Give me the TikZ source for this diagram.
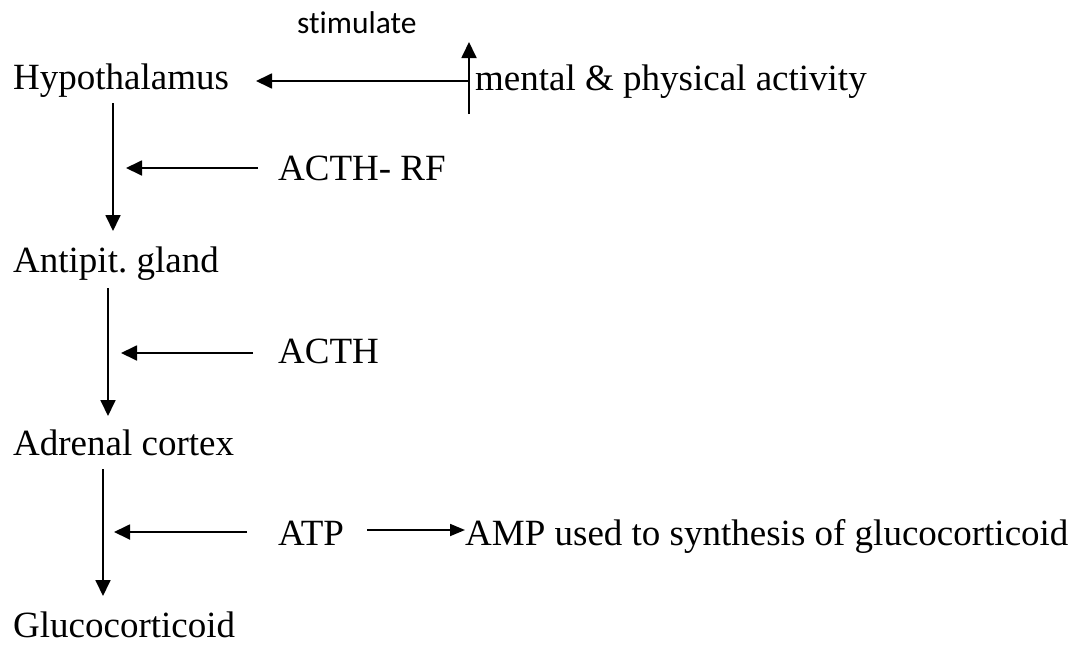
\documentclass[tikz,border=0pt]{standalone}
\usepackage{fontspec}
\setmainfont{Liberation Serif}
\newfontfamily\calibri[Ligatures=NoCommon]{Carlito}
\usetikzlibrary{arrows.meta}
\frenchspacing
\begin{document}
\begin{tikzpicture}[x=1pt,y=-1pt,
  lbl/.style={anchor=base west,inner sep=0pt,font=\fontsize{37}{44}\selectfont},
  note/.style={anchor=base west,inner sep=0pt,font=\calibri\fontsize{31.5}{38}\selectfont},
  arr/.style={line width=1.8pt,-{Triangle[length=16pt,width=15pt]}}]
\useasboundingbox (0,0) rectangle (1078,645);
% text nodes
\node[lbl] (hyp) at (13,89) {Hypothalamus};
\node[lbl] (ant) at (13,272) {Antipit. gland};
\node[lbl] (adr) at (13,455) {Adrenal cortex};
\node[lbl] (glu) at (13,637) {Glucocorticoid};
\node[lbl] (rf) at (278,180) {ACTH- RF};
\node[lbl] (acth) at (278,363) {ACTH};
\node[lbl] (atp) at (278,545) {ATP};
\node[lbl] (amp) at (465,545) {AMP used to synthesis of glucocorticoid};
\node[lbl] (men) at (475,90) {mental \& physical activity};
\node[note] (stim) at (297,33) {stimulate};
% coordinates
\coordinate (v1a) at (113,103); \coordinate (v1b) at (113,231);
\coordinate (v2a) at (108,288); \coordinate (v2b) at (108,416);
\coordinate (v3a) at (103,469); \coordinate (v3b) at (103,596);
\coordinate (h1a) at (258,168); \coordinate (h1b) at (126,168);
\coordinate (h2a) at (253,353); \coordinate (h2b) at (121,353);
\coordinate (h3a) at (247,532); \coordinate (h3b) at (114,532);
\coordinate (ta) at (469,81); \coordinate (tb) at (256,81);
\coordinate (ua) at (469,114); \coordinate (ub) at (469,42);
\coordinate (pa) at (367,530); \coordinate (pb) at (465,530);
% arrows
\draw[arr] (v1a) -- (v1b);
\draw[arr] (v2a) -- (v2b);
\draw[arr] (v3a) -- (v3b);
\draw[arr] (h1a) -- (h1b);
\draw[arr] (h2a) -- (h2b);
\draw[arr] (h3a) -- (h3b);
\draw[arr] (ta) -- (tb);
\draw[arr] (ua) -- (ub);
\draw[line width=1.8pt,-{Triangle[length=15pt,width=12pt]}] (pa) -- (pb);
\end{tikzpicture}
\end{document}
